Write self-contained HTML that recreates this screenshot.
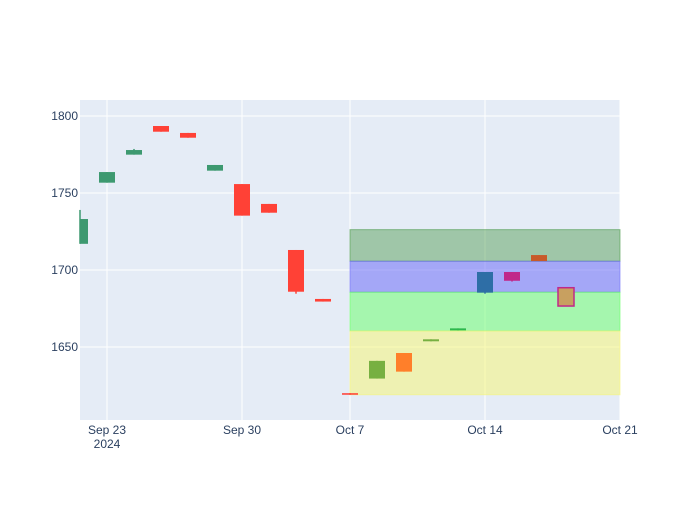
<!DOCTYPE html>
<html><head><meta charset="utf-8"><style>
body{margin:0;background:#fff;font-family:"Liberation Sans",sans-serif}
svg text{font-family:"Liberation Sans",sans-serif;font-size:12px;fill:#2a3f5f}
</style></head><body>
<svg id="chart" width="700" height="500">
<rect x="80" y="100" width="540" height="320" fill="#e5ecf6"/>
<g id="grid"></g><g id="bands"></g><g id="candles"></g><g id="axes"></g>
</svg>
<script>
const opens=[1717,1756.7,1774.9,1793.5,1789,1764.5,1755.8,1742.9,1713,1681.2,1620,1629.5,1634,1653.7,1660.8,1685.3,1693,1705.8,1676.6];
const highs=[1739,1763.6,1778.6,1793.5,1789,1768.2,1755.8,1742.9,1713,1681.2,1620,1641,1646.1,1655,1662.1,1698.7,1698.7,1709.7,1688.5];
const lows=[1717,1756.7,1774.9,1789.8,1785.9,1764.5,1735.3,1737.2,1684.6,1679.5,1619,1629.5,1634,1653.7,1660.8,1684.6,1692.5,1705.8,1676.6];
const closes=[1733.1,1763.6,1777.9,1789.8,1785.9,1768.2,1735.3,1737.2,1685.9,1679.5,1619,1641,1646.1,1655,1662.1,1698.7,1698.7,1709.7,1688.5];
const colors=["#3d9970","#3d9970","#3d9970","#ff4136","#ff4136","#3d9970","#ff4136","#ff4136","#ff4136","#ff4136","#ff4136","#77b041","#ff7f2a","#77b041","#2db84d","#2e6ea6","#c0288a","#c85a2a","#c8a060"];
const bandLow=[1705.7,1685.6,1660.4,1619];
const bandHigh=[1726.2,1705.7,1685.6,1660.4];
const bandColors=["#4a9a4a","#6f6ff8","#66ff66","#f5f57a"];
const bandOpacity=[0.45,0.55,0.5,0.55];
const yTicks=[1650,1700,1750,1800];
const xTickIdx=[1,6,10,15,20];
const xTickLabels=["Sep 23","Sep 30","Oct 7","Oct 14","Oct 21"];
const NS="http://www.w3.org/2000/svg";
function y(v){return 116+(1800-v)*1.54;}
function x(i){return 80+27*i;}
function mk(tag,attrs,parent){const e=document.createElementNS(NS,tag);for(const k in attrs)e.setAttribute(k,attrs[k]);document.getElementById(parent).appendChild(e);return e;}
yTicks.forEach((t,i)=>{
 const l=mk('line',{x1:80,x2:620,y1:y(t),y2:y(t),stroke:'#fff','stroke-width':1},'grid');
 
 
 const tx=mk('text',{x:78,y:y(t)+4,'text-anchor':'end'},'axes');tx.textContent=t;
 
 
});
xTickIdx.forEach((t,i)=>{
 const l=mk('line',{x1:x(t),x2:x(t),y1:100,y2:420,stroke:'#fff','stroke-width':1},'grid');
 
 
 const tx=mk('text',{x:x(t),y:434,'text-anchor':'middle'},'axes');tx.textContent=xTickLabels[i];
 
 
});
const yr=mk('text',{x:x(1),y:448,'text-anchor':'middle'},'axes');yr.textContent='2024';


bandLow.forEach((lo,i)=>{
 const r=mk('rect',{x:x(10),y:y(bandHigh[i]),width:x(20)-x(10),height:y(lo)-y(bandHigh[i]),fill:bandColors[i],'fill-opacity':bandOpacity[i],stroke:bandColors[i],'stroke-opacity':0.6},'bands');
 
 
});
opens.forEach((o,i)=>{
 const cx=x(i),c=colors[i];
 const top=Math.max(o,closes[i]),bot=Math.min(o,closes[i]);
 const w=mk('line',{x1:cx,x2:cx,y1:y(highs[i]),y2:y(lows[i]),stroke:c,'stroke-width':1.5},'candles');
 
 
 const x0=Math.max(80,cx-8);
 const r=mk('rect',{x:x0,y:y(top),width:cx+8-x0,height:Math.max(1.5,y(bot)-y(top)),fill:c,stroke:i==18?'#c0288a':c,'stroke-width':i==18?1.5:0},'candles');
 
 
});
</script>
</body></html>
